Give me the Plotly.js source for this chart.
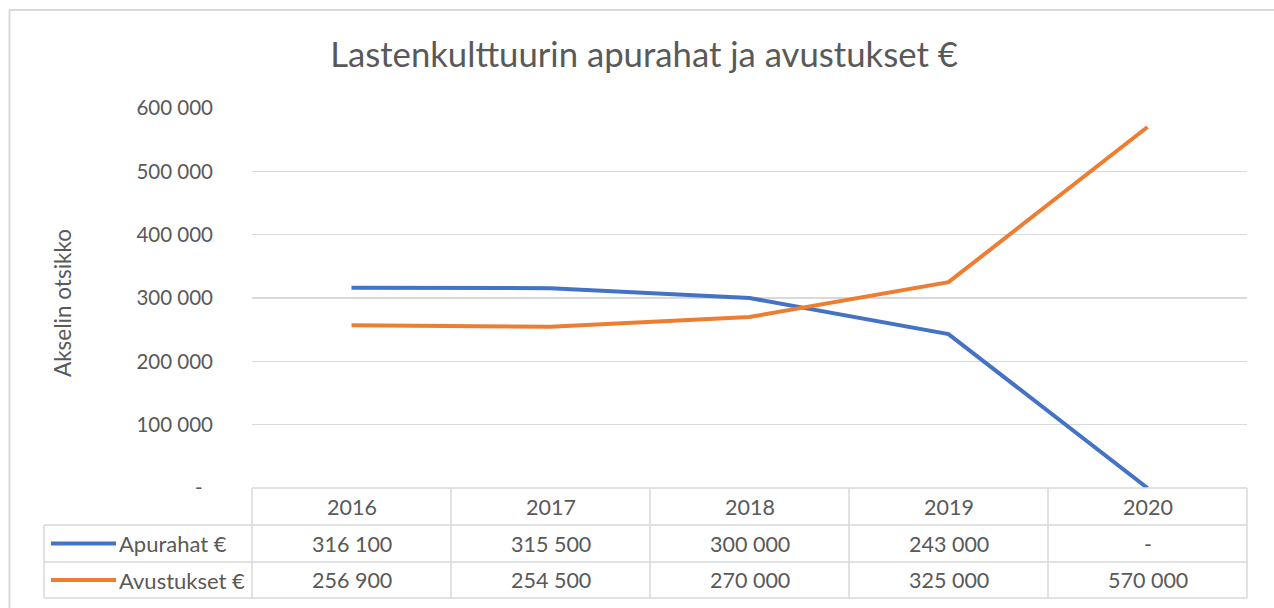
<!DOCTYPE html>
<html>
<head>
<meta charset="utf-8">
<script src="https://cdn.plot.ly/plotly-3.0.1.min.js"></script>
<style>html,body{margin:0;padding:0;background:#fff;}#chart{width:1274px;height:608px;}</style>
</head>
<body>
<div id="chart"></div>
<script>
var years = ['2016', '2017', '2018', '2019', '2020'];
var apurahat = [316100, 315500, 300000, 243000, 0];
var avustukset = [256900, 254500, 270000, 325000, 570000];
var seriesNames = ['Apurahat €', 'Avustukset €'];
var seriesColors = ['#4472C4', '#ED7D31'];
var yTickVals = [0, 100000, 200000, 300000, 400000, 500000, 600000];
var yTickText = ['-\u00a0\u00a0', '100 000', '200 000', '300 000', '400 000', '500 000', '600 000'];

var W = 1274, H = 608;
var L = 252, R = 1247, T = 108, B = 488;
function px(x) { return (x - L) / (R - L); }
function py(y) { return (B - y) / (B - T); }

function fmt(v) {
  if (v === 0) return '-';
  var s = String(Math.round(v));
  return s.replace(/\B(?=(\d{3})+(?!\d))/g, ' ');
}

var FONT = 'Lato, "Open Sans", sans-serif';
var TXT = '#595959';
var GRID = '#d9d9d9';

var traces = [
  {x: years, y: apurahat, type: 'scatter', mode: 'lines', name: seriesNames[0],
   line: {color: seriesColors[0], width: 4}},
  {x: years, y: avustukset, type: 'scatter', mode: 'lines', name: seriesNames[1],
   line: {color: seriesColors[1], width: 4}}
];

var rowTop = [488, 525, 562, 598];
var shapes = [];
// outer frame
shapes.push({type: 'line', xref: 'paper', yref: 'paper', x0: px(9), x1: px(1280), y0: py(10), y1: py(10), line: {color: GRID, width: 2}});
shapes.push({type: 'line', xref: 'paper', yref: 'paper', x0: px(9.5), x1: px(9.5), y0: py(10), y1: py(615), line: {color: GRID, width: 2}});
// table horizontal lines
shapes.push({type: 'line', xref: 'paper', yref: 'paper', x0: 0, x1: 1, y0: py(rowTop[0]), y1: py(rowTop[0]), line: {color: GRID, width: 1.5}});
for (var i = 1; i < rowTop.length; i++) {
  shapes.push({type: 'line', xref: 'paper', yref: 'paper', x0: px(44), x1: 1, y0: py(rowTop[i]), y1: py(rowTop[i]), line: {color: GRID, width: 1.5}});
}
// table vertical lines
shapes.push({type: 'line', xref: 'paper', yref: 'paper', x0: px(44), x1: px(44), y0: py(rowTop[1]), y1: py(rowTop[3]), line: {color: GRID, width: 1.5}});
for (var k = 0; k <= years.length; k++) {
  shapes.push({type: 'line', xref: 'paper', yref: 'paper', x0: k / years.length, x1: k / years.length, y0: py(rowTop[0]), y1: py(rowTop[3]), line: {color: GRID, width: 1.5}});
}
// legend swatches
var rowMid = [(rowTop[1] + rowTop[2]) / 2, (rowTop[2] + rowTop[3]) / 2];
for (var s = 0; s < 2; s++) {
  shapes.push({type: 'line', xref: 'paper', yref: 'paper', x0: px(51), x1: px(116), y0: py(rowMid[s]), y1: py(rowMid[s]), line: {color: seriesColors[s], width: 4}});
}

var annotations = [];
annotations.push({xref: 'paper', yref: 'paper', x: px(62), y: py(303), text: 'Akselin otsikko', textangle: -90,
  showarrow: false, xanchor: 'center', yanchor: 'middle', font: {family: FONT, size: 22.5, color: TXT}});
var headerMid = (rowTop[0] + rowTop[1]) / 2;
var allSeries = [apurahat, avustukset];
for (var j = 0; j < years.length; j++) {
  annotations.push({xref: 'paper', yref: 'paper', x: (j + 0.5) / years.length, y: py(headerMid), text: years[j], showarrow: false,
    xanchor: 'center', yanchor: 'middle', font: {family: FONT, size: 21.5, color: TXT}});
  for (var s2 = 0; s2 < 2; s2++) {
    annotations.push({xref: 'paper', yref: 'paper', x: (j + 0.5) / years.length, y: py(rowMid[s2]), text: fmt(allSeries[s2][j]), showarrow: false,
      xanchor: 'center', yanchor: 'middle', font: {family: FONT, size: 21.5, color: TXT}});
  }
}
for (var s3 = 0; s3 < 2; s3++) {
  annotations.push({xref: 'paper', yref: 'paper', x: px(117), y: py(rowMid[s3]), text: seriesNames[s3], showarrow: false,
    xanchor: 'left', yanchor: 'middle', font: {family: FONT, size: 22, color: TXT}});
}

var layout = {
  width: W, height: H,
  margin: {l: L, r: W - R, t: T, b: H - B, pad: 0},
  paper_bgcolor: '#ffffff', plot_bgcolor: '#ffffff',
  showlegend: false,
  title: {text: 'Lastenkulttuurin apurahat ja avustukset €', x: 644 / W, xref: 'container', xanchor: 'center',
    y: 1 - 55 / H, yref: 'container', yanchor: 'middle', font: {family: FONT, size: 34.7, color: TXT}},
  xaxis: {type: 'category', range: [-0.5, 4.5], showticklabels: false, ticks: '', showgrid: false, zeroline: false, showline: false, fixedrange: true},
  yaxis: {range: [0, 600000], tickvals: yTickVals, ticktext: yTickText, showgrid: true, gridcolor: GRID, gridwidth: 1.5,
    zeroline: false, showline: false, ticks: '', ticklabelstandoff: 38,
    tickfont: {family: FONT, size: 20.5, color: TXT}, fixedrange: true},
  shapes: shapes,
  annotations: annotations
};

Plotly.newPlot('chart', traces, layout, {displayModeBar: false, staticPlot: true});
</script>
</body>
</html>
